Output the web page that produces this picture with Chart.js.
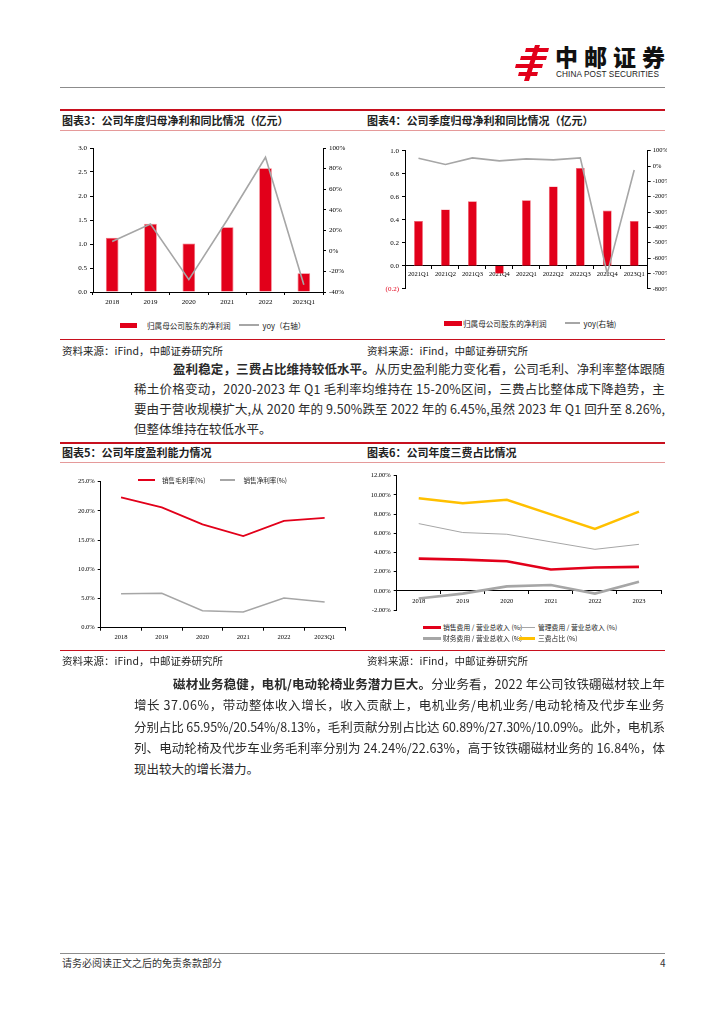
<!DOCTYPE html>
<html><head><meta charset="utf-8">
<script src="https://cdn.jsdelivr.net/npm/chart.js@4.4.0/dist/chart.umd.min.js"></script>
<style>
html,body{margin:0;padding:0;background:#fff}
body{width:724px;height:1024px;position:relative;overflow:hidden;font-family:"Noto Sans CJK SC","Noto Sans",sans-serif;color:#222}
.a{position:absolute}
.hl{position:absolute;left:60px;width:605px}
.ttl{position:absolute;font-size:11px;font-weight:bold;line-height:14px;white-space:nowrap;color:#222}
.src{position:absolute;font-size:10.5px;line-height:14px;white-space:nowrap;color:#222}
.ln{position:absolute;display:inline-block;white-space:nowrap;font-size:12.5px;line-height:16px;color:#2a2a2a}
.ln b{font-weight:bold}
.lg{position:absolute;white-space:nowrap;color:#222;display:flex;align-items:center}
.lg i{display:inline-block;margin-right:4px}
canvas{position:absolute}
</style></head>
<body>
<!-- header logo -->
<svg class="a" style="left:514px;top:45px" width="36" height="36" viewBox="0 0 36 36">
  <g fill="#E2001A">
    <polygon points="12,3 35,3 34,7 11,7"/>
    <polygon points="7,11 33,11 32,15 6,15"/>
    <polygon points="2,19 29,19 28,23 1,23"/>
    <polygon points="5,27 24,27 23,31 4,31"/>
    <polygon points="21,0 26,0 15,36 10,36"/>
  </g>
</svg>
<div class="a" style="left:555px;top:42px;font-size:23px;font-weight:900;letter-spacing:6px;line-height:28px;color:#111">中邮证券</div>
<div class="a" style="left:556px;top:70px;font-size:8.2px;line-height:10px;color:#222;font-family:'Liberation Sans',sans-serif;letter-spacing:0.1px">CHINA POST SECURITIES</div>
<div class="hl" style="top:87px;height:1px;background:#8c8c8c"></div>

<!-- row 1 titles -->
<div class="hl" style="top:109px;height:2px;background:#C8101E"></div>
<div class="ttl" style="left:62px;top:113px">图表3：公司年度归母净利和同比情况（亿元）</div>
<div class="ttl" style="left:367px;top:113px">图表4：公司季度归母净利和同比情况（亿元）</div>
<div class="hl" style="top:130px;height:1px;background:#E59A9A"></div>

<canvas id="c1" width="288" height="178" style="left:62px;top:135px"></canvas>
<canvas id="c2" width="300" height="161" style="left:367px;top:135px"></canvas>

<div class="lg" style="left:120px;top:319px;font-size:7.6px;height:12px"><i style="width:17px;height:5px;background:#E2001A"></i><span style="margin-left:6px">归属母公司股东的净利润</span><i style="width:20px;height:1.5px;background:#A6A6A6;margin-left:8px"></i><span>yoy（右轴）</span></div>
<div class="lg" style="left:444px;top:317px;font-size:7.6px;height:12px"><i style="width:18px;height:5px;background:#E2001A;margin-right:1px"></i><span>归属母公司股东的净利润</span><i style="width:15px;height:2px;background:#A6A6A6;margin-left:18px"></i><span>yoy(右轴)</span></div>

<div class="hl" style="top:339px;height:1px;background:#C8101E"></div>
<div class="src" style="left:62px;top:344px">资料来源：iFind，中邮证券研究所</div>
<div class="src" style="left:367px;top:344px">资料来源：iFind，中邮证券研究所</div>

<div class="ln" data-w="492" style="left:173px;top:361px"><b>盈利稳定，三费占比维持较低水平。</b>从历史盈利能力变化看，公司毛利、净利率整体跟随</div>
<div class="ln" data-w="531" style="left:134px;top:381px">稀土价格变动，2020-2023 年 Q1 毛利率均维持在 15-20%区间，三费占比整体成下降趋势，主</div>
<div class="ln" data-w="531" style="left:134px;top:401px">要由于营收规模扩大,从 2020 年的 9.50%跌至 2022 年的 6.45%,虽然 2023 年 Q1 回升至 8.26%,</div>
<div class="ln" style="left:134px;top:421px">但整体维持在较低水平。</div>

<!-- row 2 titles -->
<div class="hl" style="top:442px;height:2px;background:#C8101E"></div>
<div class="ttl" style="left:62px;top:445px">图表5：公司年度盈利能力情况</div>
<div class="ttl" style="left:367px;top:445px">图表6：公司年度三费占比情况</div>
<div class="hl" style="top:462px;height:1px;background:#E59A9A"></div>

<canvas id="c3" width="290" height="185" style="left:62px;top:465px"></canvas>
<canvas id="c4" width="298" height="152" style="left:367px;top:465px"></canvas>

<div class="lg" style="left:138px;top:475px;font-size:6.6px;height:10px"><i style="width:17px;height:2px;background:#E2001A;margin-right:7px"></i><span>销售毛利率(%)</span><i style="width:15px;height:1.5px;background:#A6A6A6;margin-left:14px;margin-right:9px"></i><span>销售净利率(%)</span></div>
<div class="lg" style="left:423px;top:622px;font-size:6.8px;height:10px"><i style="width:18px;height:3px;background:#E2001A;margin-right:2px"></i><span style="width:76px">销售费用 / 营业总收入 (%)</span><i style="width:16px;height:1px;background:#A6A6A6;margin-right:3px"></i><span>管理费用 / 营业总收入 (%)</span></div>
<div class="lg" style="left:423px;top:633px;font-size:6.8px;height:10px"><i style="width:18px;height:3px;background:#A6A6A6;margin-right:2px"></i><span style="width:76px">财务费用 / 营业总收入 (%)</span><i style="width:16px;height:3px;background:#FFC000;margin-right:3px"></i><span>三费占比 (%)</span></div>

<div class="hl" style="top:650px;height:1px;background:#C8101E"></div>
<div class="src" style="left:62px;top:654px">资料来源：iFind，中邮证券研究所</div>
<div class="src" style="left:367px;top:654px">资料来源：iFind，中邮证券研究所</div>

<div class="ln" data-w="492" style="left:173px;top:676px"><b>磁材业务稳健，电机/电动轮椅业务潜力巨大。</b>分业务看，2022 年公司钕铁硼磁材较上年</div>
<div class="ln" data-w="531" style="left:134px;top:697px">增长 37.06%，带动整体收入增长，收入贡献上，电机业务/电机业务/电动轮椅及代步车业务</div>
<div class="ln" data-w="531" style="left:134px;top:719px">分别占比 65.95%/20.54%/8.13%，毛利贡献分别占比达 60.89%/27.30%/10.09%。此外，电机系</div>
<div class="ln" data-w="531" style="left:134px;top:740px">列、电动轮椅及代步车业务毛利率分别为 24.24%/22.63%，高于钕铁硼磁材业务的 16.84%，体</div>
<div class="ln" style="left:134px;top:761px">现出较大的增长潜力。</div>

<!-- footer -->
<div class="hl" style="top:953px;height:1px;background:#8c8c8c"></div>
<div class="a" style="left:62px;top:956px;font-size:10px;line-height:14px;color:#333">请务必阅读正文之后的免责条款部分</div>
<div class="a" style="left:660px;top:956px;font-size:10px;line-height:14px;color:#333">4</div>

<script>
// ---------- data ----------
const years1 = ['2018','2019','2020','2021','2022','2023Q1'];
const netProfit1 = [1.13, 1.42, 1.01, 1.35, 2.58, 0.39];
const yoy1 = [9, 26, -28, 30, 91, -33];

const quarters2 = ['2021Q1','2021Q2','2021Q3','2021Q4','2022Q1','2022Q2','2022Q3','2022Q4','2023Q1'];
const netProfit2 = [0.39, 0.49, 0.56, -0.07, 0.57, 0.69, 0.85, 0.48, 0.39];
const yoy2 = [51, 10, 53, 34, 47, 40, 53, -700, -26];

const years3 = ['2018','2019','2020','2021','2022','2023Q1'];
const grossMargin3 = [22.3, 20.6, 17.7, 15.7, 18.3, 18.8];
const netMargin3 = [5.8, 5.9, 2.9, 2.7, 5.1, 4.4];

const years4 = ['2018','2019','2020','2021','2022','2023'];
const salesExp4 = [3.36, 3.26, 3.09, 2.23, 2.43, 2.50];
const adminExp4 = [7.01, 6.08, 5.90, 5.11, 4.33, 4.85];
const finExp4 = [-0.79, -0.28, 0.47, 0.62, -0.28, 0.96];
const threeExp4 = [9.65, 9.13, 9.50, 7.97, 6.45, 8.26];

const RED = '#E2001A', GRAY = '#A6A6A6', YELLOW = '#FFC000';

// ---------- helpers ----------
const tickFont = {family: "'Liberation Serif', serif", size: 7};
function grid(offset){ return {display:true, drawOnChartArea:false, drawTicks:true, tickLength:3, color:'#000', lineWidth:1, offset:offset}; }
const border = {display:true, color:'#000', width:1};
function baseOpts(pad){
  return {responsive:false, animation:false, devicePixelRatio:1,
    layout:{padding:pad},
    plugins:{legend:{display:false}, tooltip:{enabled:false}},
    elements:{point:{radius:0}, line:{tension:0}}};
}

// ---------- chart 1 ----------
(function(){
  const o = baseOpts({top:13, left:0, right:0, bottom:0});
  o.scales = {
    x:{grid:grid(true), border, ticks:{font:tickFont, color:'#000', padding:3, maxRotation:0}, afterFit(s){s.height=21;}},
    y:{position:'left', min:0, max:3, grid:grid(false), border, ticks:{stepSize:0.5, font:tickFont, color:'#000', padding:3, callback:v=>v.toFixed(1)}, afterFit(s){s.width=31;}},
    y1:{position:'right', min:-40, max:100, grid:grid(false), border, ticks:{stepSize:20, font:tickFont, color:'#000', padding:3, callback:v=>v+'%'}, afterFit(s){s.width=27;}}
  };
  new Chart(document.getElementById('c1'), {
    data:{labels:years1, datasets:[
      {type:'line', data:yoy1, yAxisID:'y1', borderColor:GRAY, borderWidth:1.6, pointRadius:0, order:0},
      {type:'bar', data:netProfit1, yAxisID:'y', backgroundColor:RED, borderColor:'#F06A78', borderWidth:0.8, barPercentage:0.33, categoryPercentage:1, order:1}
    ]}, options:o});
})();

// ---------- chart 2 ----------
(function(){
  const o = baseOpts({top:15.7, left:0, right:0, bottom:5});
  o.scales = {
    x:{position:{y:0}, grid:grid(true), border, ticks:{font:{family:"'Liberation Serif', serif", size:6.5}, color:'#000', padding:2, maxRotation:0, autoSkip:false}},
    y:{position:'left', min:-0.2, max:1.0, grid:grid(false), border, ticks:{stepSize:0.2, font:tickFont, padding:3,
        color:c=>(c.tick && c.tick.value < -1e-6)?RED:'#000',
        callback:v=>v < -1e-6 ? '('+Math.abs(v).toFixed(1)+')' : Math.abs(v).toFixed(1)}, afterFit(s){s.width=38;}},
    y1:{position:'right', min:-800, max:100, grid:grid(false), border, ticks:{stepSize:100, font:{family:"'Liberation Serif', serif", size:6.5}, color:'#000', padding:2, callback:v=>v+'%'}, afterFit(s){s.width=19.3;}}
  };
  new Chart(document.getElementById('c2'), {
    data:{labels:quarters2, datasets:[
      {type:'line', data:yoy2, yAxisID:'y1', borderColor:GRAY, borderWidth:1.6, pointRadius:0, order:0},
      {type:'bar', data:netProfit2, yAxisID:'y', backgroundColor:RED, borderColor:'#F06A78', borderWidth:0.6, barPercentage:0.33, categoryPercentage:1, order:1}
    ]}, options:o});
})();

// ---------- chart 3 ----------
(function(){
  const o = baseOpts({top:16.7, left:0, right:7, bottom:0});
  o.scales = {
    x:{offset:true, grid:grid(true), border, ticks:{font:{family:"'Liberation Serif', serif", size:6.5}, color:'#000', padding:3, maxRotation:0}, afterFit(s){s.height=22.3;}},
    y:{position:'left', min:0, max:25, grid:grid(false), border, ticks:{stepSize:5, font:{family:"'Liberation Serif', serif", size:6.5}, color:'#000', padding:3, callback:v=>v.toFixed(1)+'%'}, afterFit(s){s.width=38.7;}}
  };
  new Chart(document.getElementById('c3'), {
    type:'line',
    data:{labels:years3, datasets:[
      {data:grossMargin3, borderColor:RED, borderWidth:1.8, pointRadius:0},
      {data:netMargin3, borderColor:GRAY, borderWidth:1.5, pointRadius:0}
    ]}, options:o});
})();

// ---------- chart 4 ----------
(function(){
  const o = baseOpts({top:10.7, left:0, right:4, bottom:5.3});
  o.scales = {
    x:{position:{y:0}, offset:true, grid:grid(true), border, ticks:{font:{family:"'Liberation Serif', serif", size:6.5}, color:'#000', padding:3, maxRotation:0}},
    y:{position:'left', min:-2, max:12, grid:grid(false), border, ticks:{stepSize:2, font:{family:"'Liberation Serif', serif", size:6.5}, color:'#000', padding:3, callback:v=>(Math.abs(v)<1e-6?0:v).toFixed(2)+'%'}, afterFit(s){s.width=29.7;}}
  };
  new Chart(document.getElementById('c4'), {
    type:'line',
    data:{labels:years4, datasets:[
      {data:threeExp4, borderColor:YELLOW, borderWidth:2.6, pointRadius:0},
      {data:adminExp4, borderColor:GRAY, borderWidth:1, pointRadius:0},
      {data:salesExp4, borderColor:RED, borderWidth:2.6, pointRadius:0},
      {data:finExp4, borderColor:GRAY, borderWidth:2.6, pointRadius:0}
    ]}, options:o});
})();

// ---------- justify paragraph lines ----------
function justify(){
  document.querySelectorAll('.ln[data-w]').forEach(el=>{
    el.style.letterSpacing='0px';
    const target = +el.dataset.w;
    const w = el.getBoundingClientRect().width;
    const n = el.textContent.length;
    el.style.letterSpacing = ((target - w) / n) + 'px';
  });
}
justify();
if (document.fonts && document.fonts.ready) document.fonts.ready.then(justify);
</script>
</body></html>
